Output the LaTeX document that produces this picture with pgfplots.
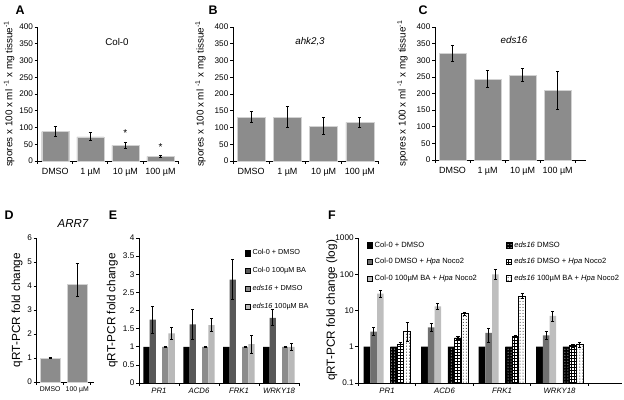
\documentclass[border=0pt]{standalone}
\usepackage{fontspec}
\setmainfont{Liberation Sans}
\usepackage{pgfplots}
\pgfplotsset{compat=1.18}
\usetikzlibrary{patterns}

\definecolor{bargray}{RGB}{140,140,140}
\definecolor{baredge}{RGB}{210,210,210}
\definecolor{eDark}{RGB}{88,88,88}
\definecolor{eMed}{RGB}{140,140,140}
\definecolor{eLight}{RGB}{185,185,185}
\definecolor{fDark}{RGB}{112,112,112}
\definecolor{fLight}{RGB}{190,190,190}

\newcommand{\fs}[1]{\fontsize{#1}{#1}\selectfont}

\pgfplotsset{
  panel/.style={
    scale only axis,
    axis x line*=bottom, axis y line*=left,
    axis line style={-, line width=0.8pt, black},
    tick align=outside,
    major tick length=3bp,
    every tick/.style={black, line width=0.7pt},
    /pgf/number format/assume math mode=true,
    yticklabel style={font=\fs{8.2}, inner sep=1.5pt},
    xticklabel style={font=\fs{9}},
    ylabel style={font=\fs{9.9}},
    xticklabels={},
    extra x tick style={major tick length=0pt},
    clip=false,
  },
  errs/.style={
    error bars/.cd, y dir=both, y explicit,
    error bar style={line width=1.1pt, black, solid},
    error mark options={rotate=90, mark size=1.6pt, line width=0.7pt, black},
  },
  sqleg/.style={legend image code/.code={\draw[##1] (0bp,-2.7bp) rectangle (5.4bp,2.7bp);}},
}

\begin{document}
\begin{tikzpicture}
\useasboundingbox (0,0) rectangle (624bp,400bp);

% ---------------- A ----------------
\begin{axis}[panel, at={(37.7bp,239bp)}, anchor=south west, width=140.3bp, height=134bp,
  xmin=-0.5, xmax=3.5, ymin=0, ymax=400, ytick={0,50,...,400},
  xtick={-0.5,0.5,1.5,2.5,3.5}, extra x ticks={0,1,2,3},
  extra x tick labels={DMSO,1 µM,10 µM,100 µM},
  xticklabel style={yshift=-4bp},
  ylabel={spores x 100 x ml \textsuperscript{-1} x mg tissue\textsuperscript{-1}}]
\addplot[ybar, bar width=0.77, fill=bargray, draw=baredge, errs] coordinates {
  (0,88) += (0,16) -= (0,15)
  (1,72) += (0,13) -= (0,10)
  (2,47) += (0,10) -= (0,9)
  (3,14) += (0,4) -= (0,4)
};
\addplot[only marks, mark=none, nodes near coords={*}, nodes near coords style={font=\fs{10}, anchor=center}] coordinates {(2,84) (3,43)};
\end{axis}

% ---------------- B ----------------
\begin{axis}[panel, at={(233bp,239bp)}, anchor=south west, width=145bp, height=134bp,
  xmin=-0.5, xmax=3.5, ymin=0, ymax=400, ytick={0,50,...,400},
  xtick={-0.5,0.5,1.5,2.5,3.5}, extra x ticks={0,1,2,3},
  extra x tick labels={DMSO,1 µM,10 µM,100 µM},
  xticklabel style={yshift=-4bp},
  ylabel={spores x 100 x ml \textsuperscript{-1} x mg tissue\textsuperscript{-1}},
  ylabel style={yshift=4bp}]
\addplot[ybar, bar width=0.77, fill=bargray, draw=baredge, errs] coordinates {
  (0,130) += (0,18) -= (0,14)
  (1,130) += (0,32) -= (0,30)
  (2,104) += (0,26) -= (0,24)
  (3,115) += (0,15) -= (0,15)
};
\end{axis}

% ---------------- C ----------------
\begin{axis}[panel, at={(435bp,240bp)}, anchor=south west, width=151bp, height=133bp,
  xmin=-0.5, xmax=3.81, ymin=0, ymax=400, ytick={0,50,...,400},
  xtick={-0.5,0.5,1.5,2.5,3.5}, extra x ticks={0,1,2,3},
  extra x tick labels={DMSO,1 µM,10 µM,100 µM},
  xticklabel style={yshift=-4bp},
  ylabel={spores x 100 x ml \textsuperscript{-1} x mg tissue\textsuperscript{-1}},
  ylabel style={yshift=4bp}]
\addplot[ybar, bar width=0.77, fill=bargray, draw=baredge, errs] coordinates {
  (0,320) += (0,26) -= (0,24)
  (1,242) += (0,28) -= (0,25)
  (2,255) += (0,20) -= (0,18)
  (3,209) += (0,58) -= (0,57)
};
\end{axis}

% ---------------- D ----------------
\begin{axis}[panel, at={(36.7bp,18bp)}, anchor=south west, width=57.3bp, height=144bp,
  xmin=-0.5, xmax=1.62, ymin=0, ymax=6, ytick={0,1,...,6},
  xtick={-0.5,0.5,1.5}, extra x ticks={0,1},
  extra x tick labels={DMSO,100 µM},
  xticklabel style={font=\fs{6.9}, yshift=-1bp},
  ylabel={qRT-PCR fold change}, ylabel style={font=\fs{11.8}}]
\addplot[ybar, bar width=0.74, fill=bargray, draw=baredge, errs] coordinates {
  (0,1.0) += (0,0.02) -= (0,0.02)
  (1,4.07) += (0,0.86) -= (0,0.5)
};
\end{axis}

% ---------------- E ----------------
\begin{axis}[panel, at={(139bp,17bp)}, anchor=south west, width=160bp, height=145bp,
  xmin=-0.5, xmax=3.5, ymin=0, ymax=4, ytick={0,0.5,...,4},
  xtick={-0.5,0.5,1.5,2.5,3.5}, extra x ticks={0,1,2,3},
  extra x tick labels={\textit{PR1},\textit{ACD6},\textit{FRK1},\textit{WRKY18}},
  xticklabel style={font=\fs{7.8}, yshift=-2bp},
  ylabel={qRT-PCR fold change}, ylabel style={font=\fs{11.8}},
  legend style={at={(0.66,0.935)}, anchor=north west, draw=none, fill=none,
    font=\fs{7.3}, row sep=7.2bp, inner sep=0pt},
  legend cell align=left]
\addplot[ybar, bar width=0.1575, fill=black, draw=none, sqleg] coordinates {
  (-0.315,1) (0.685,1) (1.685,1) (2.685,1)};
\addlegendentry{Col-0 + DMSO}
\addplot[ybar, bar width=0.1575, fill=eDark, draw=none, sqleg, errs] coordinates {
  (-0.1575,1.75) +- (0,0.37)
  (0.8425,1.62) +- (0,0.41)
  (1.8425,2.85) +- (0,0.55)
  (2.8425,1.80) +- (0,0.22)
};
\addlegendentry{Col-0 100µM BA}
\addplot[ybar, bar width=0.1575, fill=eMed, draw=none, sqleg, errs] coordinates {
  (0.1575,1) +- (0,0.01)
  (1.1575,1) +- (0,0.01)
  (2.1575,1) +- (0,0.01)
  (3.1575,1) +- (0,0.01)
};
\addlegendentry{\textit{eds16} + DMSO}
\addplot[ybar, bar width=0.1575, fill=eLight, draw=none, sqleg, errs] coordinates {
  (0.315,1.37) +- (0,0.16)
  (1.315,1.60) +- (0,0.18)
  (2.315,1.07) +- (0,0.25)
  (3.315,1.00) +- (0,0.10)
};
\addlegendentry{\textit{eds16} 100µM BA}
\end{axis}

% ---------------- F ----------------
\begin{axis}[panel, at={(358.3bp,17bp)}, anchor=south west, width=263.7bp, height=145bp,
  ymode=log, log origin=infty, ymin=0.1, ymax=1000,
  ytick={0.1,1,10,100,1000}, yticklabels={0.1,1,10,100,1000},
  yminorticks=false,
  xmin=-0.5, xmax=4.086,
  xtick={-0.5,0.5,1.5,2.5,3.5}, extra x ticks={0,1,2,3},
  extra x tick labels={\textit{PR1},\textit{ACD6},\textit{FRK1},\textit{WRKY18}},
  xticklabel style={font=\fs{7.8}, yshift=-2bp},
  ylabel={qRT-PCR fold change (log)}, ylabel style={font=\fs{11.8}, yshift=-7bp},
  legend columns=3, transpose legend,
  legend style={at={(0.032,0.99)}, anchor=north west, draw=none, fill=none,
    font=\fs{7.6}, row sep=5.8bp, inner sep=0pt,
    /tikz/every even column/.append style={column sep=27bp}},
  legend cell align=left]
\addplot[ybar, bar width=0.1165, fill=black, draw=none, sqleg] coordinates {
  (-0.35,1) (0.65,1) (1.65,1) (2.65,1)};
\addlegendentry{Col-0 + DMSO}
\addplot[ybar, bar width=0.1165, fill=fDark, draw=none, sqleg, errs] coordinates {
  (-0.233,2.6) += (0,0.9) -= (0,0.55)
  (0.767,3.4) += (0,0.9) -= (0,0.8)
  (1.767,2.4) += (0,0.9) -= (0,1.05)
  (2.767,2.05) += (0,0.55) -= (0,0.45)
};
\addlegendentry{Col-0 DMSO + \textit{Hpa} Noco2}
\addplot[ybar, bar width=0.1165, fill=fLight, draw=none, sqleg, errs] coordinates {
  (-0.1165,29) += (0,7) -= (0,6)
  (0.8835,13) += (0,3) -= (0,2)
  (1.8835,100) += (0,35) -= (0,28)
  (2.8835,7.1) += (0,2.5) -= (0,2.0)
};
\addlegendentry{Col-0 100µM BA + \textit{Hpa} Noco2}
\addplot[ybar, bar width=0.1165, fill=black, draw=black,
  postaction={pattern=dots, pattern color=white}, sqleg] coordinates {
  (0.1165,1) (1.1165,1) (2.1165,1) (3.1165,1)};
\addlegendentry{\textit{eds16} DMSO}
\addplot[ybar, bar width=0.1165, fill=white, draw=black, line width=0.8pt,
  postaction={pattern=grid}, sqleg, errs] coordinates {
  (0.233,1.15) += (0,0.15) -= (0,0.12)
  (1.233,1.75) += (0,0.13) -= (0,0.13)
  (2.233,1.95) += (0,0.17) -= (0,0.15)
  (3.233,1.06) += (0,0.08) -= (0,0.08)
};
\addlegendentry{\textit{eds16} DMSO + \textit{Hpa} Noco2}
\addplot[ybar, bar width=0.1165, fill=white, draw=black, line width=1pt,
  postaction={pattern=dots}, sqleg, errs] coordinates {
  (0.35,2.7) += (0,2.1) -= (0,1.3)
  (1.35,8.2) += (0,0.7) -= (0,0.7)
  (2.35,25) += (0,4) -= (0,4)
  (3.35,1.12) += (0,0.18) -= (0,0.16)
};
\addlegendentry{\textit{eds16} 100µM BA + \textit{Hpa} Noco2}
\end{axis}

% titles and panel letters
\node[font=\fs{9.8}] at (117bp,358bp) {Col-0};
\node[font=\itshape\fs{9.8}] at (310bp,358bp) {ahk2,3};
\node[font=\itshape\fs{9.8}] at (514bp,360bp) {eds16};
\node[font=\itshape\fs{11.5}] at (73bp,176bp) {ARR7};
\node[font=\bfseries\fs{12.5}] at (20bp,390bp) {A};
\node[font=\bfseries\fs{12.5}] at (213bp,390bp) {B};
\node[font=\bfseries\fs{12.5}] at (423bp,390bp) {C};
\node[font=\bfseries\fs{12.5}] at (9bp,185bp) {D};
\node[font=\bfseries\fs{12.5}] at (113bp,185bp) {E};
\node[font=\bfseries\fs{12.5}] at (332bp,185bp) {F};
\end{tikzpicture}
\end{document}
